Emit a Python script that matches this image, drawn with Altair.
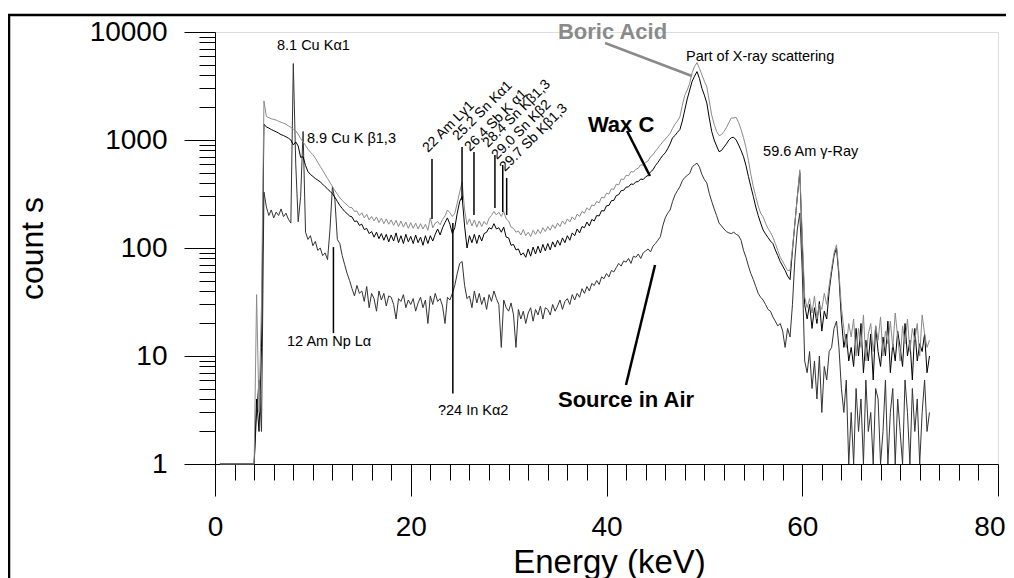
import altair as alt
import pandas as pd

# channel grid (keV), 0.25 keV bins from 0.5 to 73.0
energy = [round(0.5 + 0.25 * i, 2) for i in range(291)]

boric = [1, 1,
         1, 1, 1, 1, 1, 1, 1, 1, 1, 1, 1, 1,
         1, 37, 3, 30,
         2300, 1650, 1610, 1570,
         1550, 1530, 1490, 1460,
         1430, 1400, 1350, 1310,
         1260, 1220, 1130, 1030,
         960, 890, 820, 770,
         730, 680, 620, 570,
         525, 480, 440, 405,
         370, 340, 315, 292,
         275, 262, 250, 238,
         236, 218, 220, 200,
         212, 190, 205, 182,
         196, 178, 194, 172,
         189, 168, 186, 166,
         182, 162, 180, 158,
         178, 156, 174, 152,
         172, 152, 170, 150,
         168, 150, 166, 146,
         190, 154, 170, 176,
         164, 184, 198, 225,
         212, 196, 210, 260,
         330, 410, 225, 165,
         186, 160, 182, 156,
         178, 158, 176, 164,
         188, 200, 218, 202,
         214, 196, 218, 186,
         178, 156, 152, 140,
         144, 132, 148, 130,
         140, 128, 146, 134,
         148, 136, 154, 142,
         158, 146, 164, 152,
         170, 158, 178, 166,
         186, 174, 194, 182,
         206, 196, 218, 210,
         236, 224, 250, 246,
         270, 262, 296, 290,
         322, 316, 354, 348,
         390, 384, 436, 430,
         472, 466, 510, 505,
         536, 548, 590, 585,
         620, 640, 700, 730,
         790, 840, 900, 960,
         1020, 1080, 1150, 1280,
         1400, 1500, 1640, 2100,
         2600, 2900, 3350, 4200,
         4800, 5200, 4600, 4000,
         3500, 3100, 2300, 1700,
         1400, 1200, 1100, 1120,
         1200, 1300, 1450, 1600,
         1600, 1620, 1450, 1250,
         1050, 850, 650, 480,
         370, 300, 245, 210,
         194, 170, 152, 140,
         126, 110, 95, 82,
         75, 68, 62, 62,
         100, 170, 300, 530,
         130, 35, 28, 34,
         25, 36, 22, 30,
         27, 38, 30, 45,
         65, 90, 107, 60,
         28, 18, 12, 20,
         15, 22, 10, 18,
         12, 24, 9, 16,
         20, 11, 19, 14,
         23, 10, 17, 13,
         21, 12, 25, 15,
         9, 19, 13, 22,
         11, 18, 14, 20,
         10, 24, 16, 12,
         14]

wax = [1, 1,
       1, 1, 1, 1, 1, 1, 1, 1, 1, 1, 1, 1,
       1, 4, 2, 12,
       1400, 1320, 1290, 1250,
       1220, 1190, 1160, 1120,
       1100, 1070, 1040, 1000,
       900, 960, 880, 690,
       700, 580, 510, 480,
       460, 440, 425, 410,
       390, 370, 352, 335,
       318, 295, 270, 248,
       232, 218, 208, 198,
       194, 176, 178, 162,
       166, 148, 152, 136,
       142, 126, 140, 122,
       136, 118, 134, 114,
       132, 116, 138, 112,
       130, 110, 134, 114,
       128, 110, 132, 112,
       126, 106, 130, 110,
       130, 116, 134, 150,
       132, 154, 172, 190,
       166, 136, 154, 210,
       270, 300, 160, 100,
       130, 112, 134, 110,
       132, 116, 136, 140,
       154, 150, 168, 150,
       154, 140, 156, 126,
       124, 106, 108, 96,
       98, 86, 90, 82,
       98, 84, 102, 88,
       104, 90, 108, 94,
       110, 96, 114, 102,
       118, 106, 124, 112,
       130, 118, 138, 130,
       150, 138, 158, 154,
       174, 160, 184, 178,
       200, 198, 222, 220,
       246, 248, 274, 276,
       306, 312, 340, 342,
       366, 368, 392, 388,
       410, 412, 436, 430,
       456, 470, 508, 530,
       580, 620, 670, 720,
       760, 830, 920, 1050,
       1100, 1180, 1250, 1500,
       1900, 2400, 2900, 3500,
       3900, 4300, 3700, 3000,
       2600, 2200, 1600, 1200,
       1000, 880, 780, 800,
       860, 920, 1000, 1050,
       1060, 1000, 900, 800,
       700, 580, 460, 370,
       300, 240, 200, 170,
       147, 135, 125, 116,
       110, 96, 85, 75,
       68, 62, 55, 51,
       95, 170, 300, 500,
       110, 30, 22, 30,
       18, 28, 20, 32,
       17, 26, 22, 40,
       60, 85, 100, 55,
       22, 12, 16, 9,
       12, 8, 18, 10,
       20, 7, 14, 9,
       16, 6, 19, 11,
       8, 15, 10, 21,
       7, 13, 9, 17,
       12, 8, 20, 10,
       14, 6, 18, 9,
       13, 11, 16, 7,
       10]

air = [1, 1,
       1, 1, 1, 1, 1, 1, 1, 1, 1, 1, 1, 1,
       1, 3, 6, 2,
       330, 240, 200, 225,
       190, 215, 200, 230,
       195, 210, 185, 170,
       5100, 600, 175, 300,
       1200, 140, 120, 130,
       105, 115, 95, 100,
       85, 90, 78, 150,
       370, 280, 120, 110,
       85, 70, 58, 50,
       42, 36, 45, 38,
       40, 32, 44, 28,
       38, 34, 26, 40,
       33, 38, 29, 36,
       35, 30, 22, 34,
       32, 37, 28, 33,
       30, 34, 26, 31,
       35, 28, 33, 20,
       36, 30, 38, 32,
       34, 29, 20, 35,
       33, 38, 45, 58,
       72, 75, 45, 34,
       36, 28, 40, 31,
       38, 30, 35, 27,
       37, 32, 40, 34,
       30, 12, 33, 28,
       26, 31, 24, 12,
       27, 22, 26, 20,
       25, 28, 21, 27,
       24, 29, 22, 28,
       27, 24, 30, 26,
       29, 33, 27, 32,
       34, 30, 37, 33,
       38, 35, 42, 38,
       44, 40, 47, 45,
       50, 46, 54, 52,
       58, 54, 62, 60,
       66, 72, 68, 76,
       74, 80, 72, 84,
       82, 88, 80, 90,
       94, 98, 92, 104,
       110, 118, 127, 160,
       190, 210, 225, 270,
       310, 340, 370, 420,
       450, 470, 490, 560,
       590, 610, 560, 480,
       430, 400, 320, 270,
       230, 200, 170, 160,
       150, 142, 138, 136,
       140, 134, 130, 118,
       95, 82, 68, 58,
       51, 44, 38, 35,
       33, 30, 27, 26,
       23, 21, 19, 20,
       17, 12, 18, 15,
       30, 80, 150, 210,
       60, 9, 7, 11,
       5, 9, 4, 10,
       3, 8, 6, 11,
       12, 18, 21, 12,
       5, 3, 6, 1,
       3, 1, 5, 2,
       4, 1, 6, 2,
       3, 1, 5, 4,
       1, 2, 6, 1,
       3, 5, 1, 4,
       2, 1, 6, 3,
       1, 5, 2, 4,
       1, 3, 6, 2,
       3]

assert len(boric) == len(energy) == len(wax) == len(air)

x_ticks = list(range(0, 81, 2))
y_ticks = [m * 10 ** d for d in range(4) for m in range(1, 10)] + [10000]

# annotation texts (positions in data units)
reg_text = ["8.1 Cu K\u03b11", "8.9 Cu K \u03b21,3", "12 Am Np L\u03b1", "?24 In K\u03b12",
            "Part of X-ray scattering", "59.6 Am \u03b3-Ray"]
reg_x = [6.33, 9.4, 7.36, 22.78, 48.12, 56.0]
reg_y = [7420, 1022, 13.5, 3.1, 5870, 774]

rot_text = ["22 Am L\u03b31", "25.2 Sn K\u03b11", "26.4 Sb K \u03b11", "28.4 Sn K\u03b21,3",
            "29.0 Sn K\u03b22", "29.7 Sb K\u03b21,3"]
rot_x = [21.76, 24.83, 26.05, 27.9, 28.8, 29.63]
rot_y = [758, 979, 774, 843, 653, 505]

mk_x = [12.1, 24.3, 22.17, 25.24, 26.46, 28.6, 29.4, 29.8]
mk_top = [102, 170, 667, 861, 774, 726, 587, 445]
mk_bot = [16.3, 4.5, 186, 278, 202, 235, 215, 202]

bold_text = ["Wax C", "Source in Air"]
bold_x = [38.1, 35.04]
bold_y = [1377, 3.9]
boric_label_x = [35.04]
boric_label_y = [10000]

lead_x = [42.1, 44.96]
lead_y = [1211, 69.6]
lead_x2 = [44.44, 41.99]
lead_y2 = [464, 5.39]
blead_x, blead_y, blead_x2, blead_y2 = [39.85], [7910], [48.73], [3917]

FONT = "Liberation Sans"
is_decade = "abs(log(datum.value)/LN10 - round(log(datum.value)/LN10)) < 0.001"

xscale = alt.Scale(domain=[0, 80], nice=False, zero=False)
yscale = alt.Scale(type="log", domain=[1, 10000], nice=False)

xaxis = alt.Axis(values=x_ticks, labelExpr="datum.value % 20 == 0 ? datum.label : ''",
                 tickSize={"condition": {"test": "datum.value % 20 == 0", "value": 32}, "value": 16},
                 labelAlign={"condition": {"test": "datum.value == 80", "value": "right"}, "value": "center"},
                 labelOffset={"condition": {"test": "datum.value == 80", "value": 7}, "value": 0},
                 tickColor="black", domainColor="black", labelColor="black", grid=False,
                 labelFont=FONT, labelFontSize=28, labelPadding=17, labelFlush=False,
                 title="Energy (keV)", titleFont=FONT, titleFontSize=33, titleFontWeight="normal",
                 titleColor="black", titleX=394, titleY=108, titleBaseline="alphabetic",
                 titleAlign="center", labelOverlap=False)
yaxis = alt.Axis(values=y_ticks, format="d", labelExpr=is_decade + " ? datum.label : ''",
                 tickSize={"condition": {"test": is_decade, "value": 31}, "value": 16},
                 tickColor="black", domainColor="black", labelColor="black", grid=False,
                 labelFont=FONT, labelFontSize=28, labelPadding=17, labelFlush=False,
                 title="count s", titleFont=FONT, titleFontSize=32, titleFontWeight="normal",
                 titleColor="black", titleX=-173, titleY=216, titleBaseline="alphabetic",
                 titleAlign="center", labelOverlap=False)

X = alt.X("energy:Q", scale=xscale, axis=xaxis)
Y = alt.Y("counts:Q", scale=yscale, axis=yaxis)


def series_layer(vals, color):
    d = pd.DataFrame({"energy": energy, "counts": vals})
    return alt.Chart(d).mark_line(color=color, strokeWidth=1).encode(x=X, y=Y)


layers = [
    series_layer(air, "#333333"),
    series_layer(wax, "#000000"),
    series_layer(boric, "#8a8a8a"),
]

mk = pd.DataFrame({"energy": mk_x, "counts": mk_top, "bot": mk_bot})
layers.append(alt.Chart(mk).mark_rule(color="black", strokeWidth=1.5).encode(
    x=X, y=Y, y2="bot:Q"))

ld = pd.DataFrame({"energy": lead_x, "counts": lead_y, "e2": lead_x2, "c2": lead_y2})
layers.append(alt.Chart(ld).mark_rule(color="black", strokeWidth=2.5).encode(
    x=X, y=Y, x2="e2:Q", y2="c2:Q"))
bld = pd.DataFrame({"energy": blead_x, "counts": blead_y, "e2": blead_x2, "c2": blead_y2})
layers.append(alt.Chart(bld).mark_rule(color="#8a8a8a", strokeWidth=2.5).encode(
    x=X, y=Y, x2="e2:Q", y2="c2:Q"))

rg = pd.DataFrame({"energy": reg_x, "counts": reg_y, "t": reg_text})
layers.append(alt.Chart(rg).mark_text(font=FONT, fontSize=14.5, align="left", baseline="middle",
                                      color="black").encode(x=X, y=Y, text="t:N"))
rt = pd.DataFrame({"energy": rot_x, "counts": rot_y, "t": rot_text})
layers.append(alt.Chart(rt).mark_text(font=FONT, fontSize=14, align="left", baseline="alphabetic",
                                      angle=315, color="black").encode(x=X, y=Y, text="t:N"))
bt = pd.DataFrame({"energy": bold_x, "counts": bold_y, "t": bold_text})
layers.append(alt.Chart(bt).mark_text(font=FONT, fontSize=22, fontWeight="bold", align="left",
                                      baseline="middle", color="black").encode(x=X, y=Y, text="t:N"))
bb = pd.DataFrame({"energy": boric_label_x, "counts": boric_label_y, "t": ["Boric Acid"]})
layers.append(alt.Chart(bb).mark_text(font=FONT, fontSize=22, fontWeight="bold", align="left",
                                      baseline="middle", color="#8a8a8a").encode(x=X, y=Y, text="t:N"))

# page frame (decoration)
one = pd.DataFrame({"k": [0]})
layers.append(alt.Chart(one).mark_rule(color="black", strokeWidth=2.5).encode(
    x=alt.value(-207), x2=alt.value(791), y=alt.value(-17)))
layers.append(alt.Chart(one).mark_rule(color="black", strokeWidth=2.5).encode(
    x=alt.value(-206), y=alt.value(-17), y2=alt.value(570)))

chart = alt.layer(*layers).properties(
    width=783, height=432,
    padding={"left": 207, "top": 24, "right": 8, "bottom": 114},
    autosize=alt.AutoSizeParams(type="none"),
).configure_view(stroke=None).configure(background="white")

chart.save("out.html", embed_options={"renderer": "svg", "actions": False})
